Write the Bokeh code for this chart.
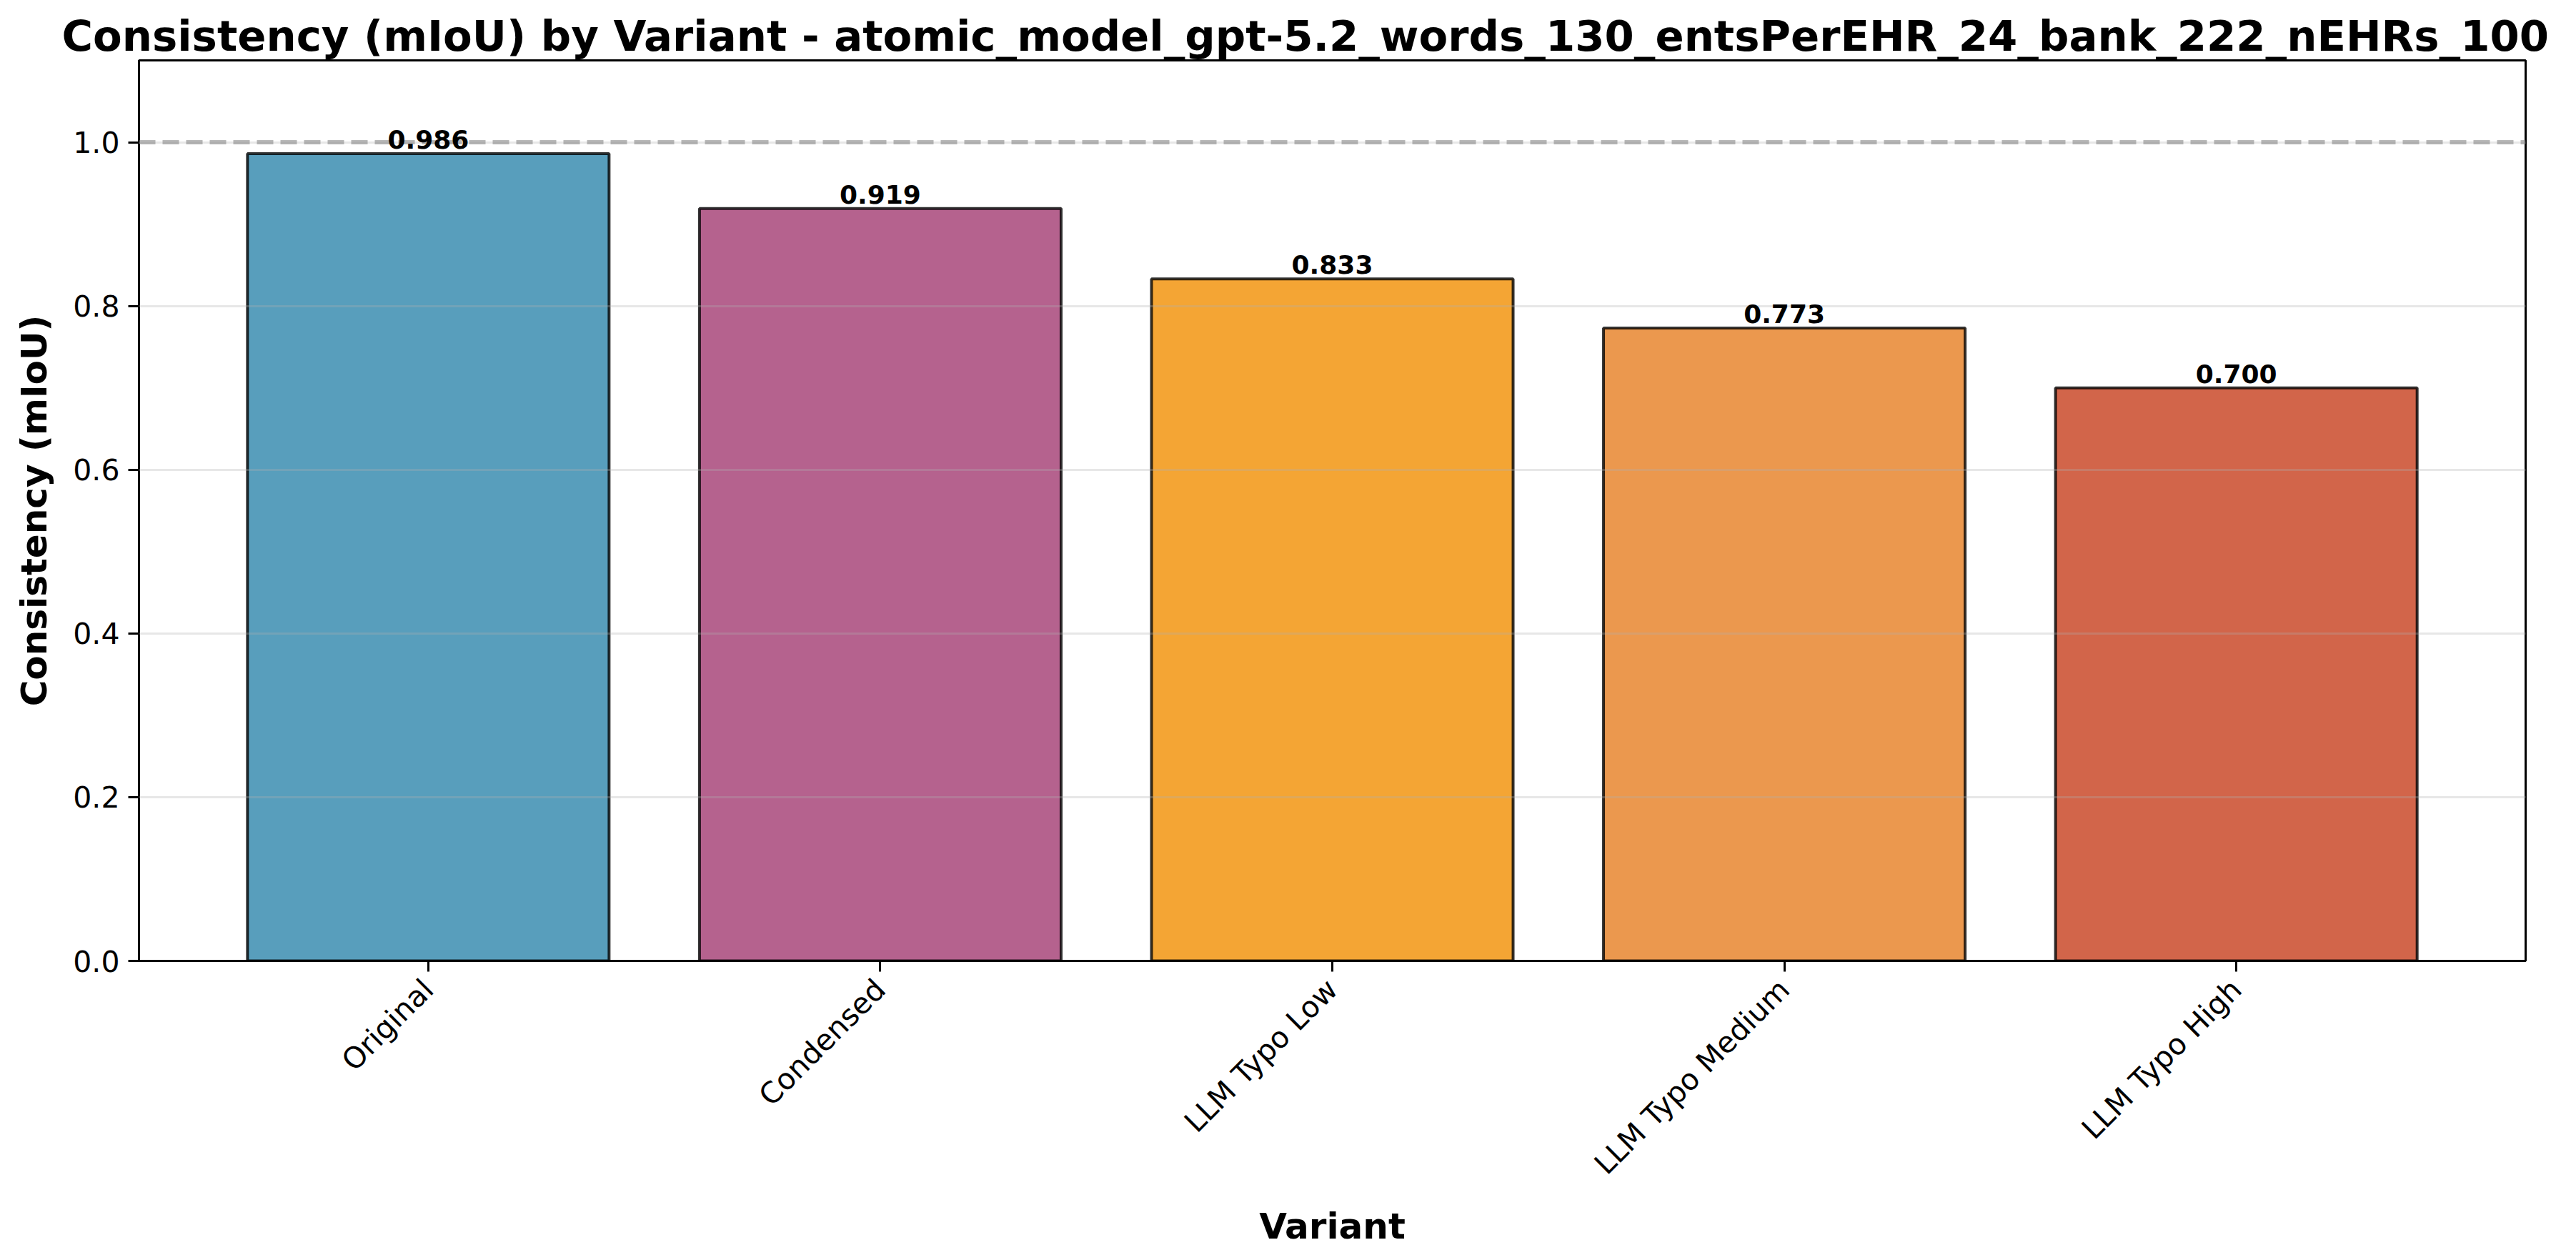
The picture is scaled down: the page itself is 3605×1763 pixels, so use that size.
from bokeh.plotting import figure
from bokeh.models import ColumnDataSource, Range1d, FixedTicker, Span
from bokeh.core.properties import value
from bokeh.embed import file_html
from bokeh.resources import INLINE

# data
variants = ['Original', 'Condensed', 'LLM Typo Low', 'LLM Typo Medium', 'LLM Typo High']
consistency = [0.986, 0.919, 0.833, 0.773, 0.700]
bar_colors = ['#2E86AB', '#A23B72', '#F18F01', '#E67E22', '#C73E1D']
y_ticks = [0.0, 0.2, 0.4, 0.6, 0.8, 1.0]
y_tick_labels = ['0.0', '0.2', '0.4', '0.6', '0.8', '1.0']
reference_line = 1.0

title = 'Consistency (mIoU) by Variant - atomic_model_gpt-5.2_words_130_entsPerEHR_24_bank_222_nEHRs_100'

positions = list(range(len(variants)))
source = ColumnDataSource(data=dict(
    x=positions,
    y=consistency,
    color=bar_colors,
    label=['%.3f' % v for v in consistency],
))

FONT = 'DejaVu Sans'

p = figure(width=3589, height=1747,
           x_range=Range1d(-0.64, len(variants) - 1 + 0.64),
           y_range=Range1d(0, 1.1),
           title=title,
           output_backend='svg',
           toolbar_location=None,
           tools='')
p.min_border_left = 194
p.min_border_right = 55
p.min_border_top = 84
p.min_border_bottom = 392

# title (wider than the frame, so placed from the left)
p.title.text_font = FONT
p.title.text_font_size = '59.3px'
p.title.text_font_style = 'bold'
p.title.text_color = 'black'
p.title.align = 'left'
p.title.offset = -108
p.title.standoff = 0

# frame
p.outline_line_color = 'black'
p.outline_line_width = 3
p.background_fill_color = 'white'
p.border_fill_color = 'white'

# bars
p.vbar(x='x', top='y', width=0.8, bottom=0, source=source,
       fill_color='color', fill_alpha=0.8,
       line_color='black', line_alpha=0.8, line_width=4)

# grid above the bars, like matplotlib
p.xgrid.visible = False
p.ygrid.ticker = FixedTicker(ticks=y_ticks)
p.ygrid.grid_line_color = '#b0b0b0'
p.ygrid.grid_line_alpha = 0.3
p.ygrid.grid_line_width = 3
p.ygrid.level = 'annotation'

p.add_layout(Span(location=reference_line, dimension='width',
                  line_color='gray', line_alpha=0.55,
                  line_dash='23 10', line_width=6))

# value labels
p.text(x='x', y='y', text='label', source=source,
       text_align='center', text_baseline='bottom',
       text_font=value(FONT), text_font_style='bold',
       text_font_size='36px', text_color='black',
       y_offset=-7, level='overlay')

# axes
for ax in (p.xaxis, p.yaxis):
    ax.axis_line_color = 'black'
    ax.axis_line_width = 3
    ax.major_tick_line_color = 'black'
    ax.major_tick_line_width = 3
    ax.major_tick_out = 15
    ax.major_tick_in = 0
    ax.minor_tick_line_color = None
    ax.major_label_text_font = FONT
    ax.major_label_text_font_size = '41px'
    ax.major_label_text_color = 'black'
    ax.major_label_standoff = 12
    ax.axis_label_text_font = FONT
    ax.axis_label_text_font_size = '50px'
    ax.axis_label_text_font_style = 'bold'
    ax.axis_label_text_color = 'black'

p.xaxis.ticker = FixedTicker(ticks=positions)
p.xaxis.major_label_overrides = {i: name for i, name in zip(positions, variants)}
p.xaxis.major_label_orientation = 0.7854
p.xaxis.major_label_standoff = 18
p.xaxis.axis_label = 'Variant'
p.xaxis.axis_label_standoff = 14

p.yaxis.ticker = FixedTicker(ticks=y_ticks)
p.yaxis.major_label_overrides = {t: s for t, s in zip(y_ticks, y_tick_labels)}
p.yaxis.axis_label = 'Consistency (mIoU)'
p.yaxis.axis_label_standoff = 22

open("out.html", "w").write(file_html(p, INLINE))
